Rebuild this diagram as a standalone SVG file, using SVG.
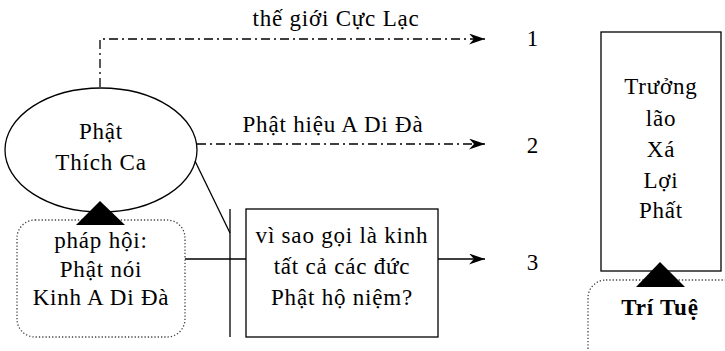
<svg xmlns="http://www.w3.org/2000/svg" width="725" height="351" viewBox="0 0 725 351">
<defs>
<marker id="ah" viewBox="0 0 16 11" refX="16" refY="5.5" markerWidth="16" markerHeight="11" markerUnits="userSpaceOnUse" orient="auto">
<path d="M0,0 L16,5.5 L0,11 L5,5.5 Z" fill="#000"/>
</marker>
</defs>
<style>
text{font-family:"Liberation Serif","Times New Roman",serif;font-size:23px;letter-spacing:0.8px;fill:#000;text-anchor:middle}
.b{font-weight:bold}
.s{fill:none;stroke:#000;stroke-width:1.3}
.dd{fill:none;stroke:#000;stroke-width:1.3;stroke-dasharray:9 4 2 4}
.dot{fill:#fff;stroke:#444;stroke-width:1.3;stroke-dasharray:1.3 2}
</style>
<rect width="725" height="351" fill="#fff"/>
<g id="connectors">
<path class="dd" d="M100,87 V39 H485" marker-end="url(#ah)"/>
<path class="dd" d="M197,144 H485" marker-end="url(#ah)"/>
<path class="s" d="M195,161 L230,233"/>
<path class="s" d="M230,209 V337"/>
<path class="s" d="M185,259 H246"/>
<path class="s" d="M438,259 H485" marker-end="url(#ah)"/>
<text x="336" y="26">thế giới Cực Lạc</text>
<text x="333" y="132">Phật hiệu A Di Đà</text>
</g>
<g id="n-thichca">
<ellipse class="s" cx="101" cy="150" rx="96" ry="62" fill="#fff"/>
<text x="101" y="139">Phật</text>
<text x="101" y="170">Thích Ca</text>
</g>
<g id="n-phaphoi">
<rect class="dot" x="17" y="220" width="168" height="117" rx="18"/>
<path d="M100,201 L76,225 L125,225 Z" fill="#000"/>
<text x="101" y="248">pháp hội:</text>
<text x="101" y="277">Phật nói</text>
<text x="101" y="305">Kinh A Di Đà</text>
</g>
<g id="n-visao">
<rect class="s" x="246" y="209" width="192" height="128" fill="#fff"/>
<text x="342" y="243">vì sao gọi là kinh</text>
<text x="342" y="274">tất cả các đức</text>
<text x="342" y="305">Phật hộ niệm?</text>
</g>
<g id="n-1"><text x="533" y="46">1</text></g>
<g id="n-2"><text x="533" y="153">2</text></g>
<g id="n-3"><text x="533" y="270">3</text></g>
<g id="n-truonglao">
<rect class="s" x="601" y="32" width="120" height="239" fill="#fff"/>
<text x="661" y="94">Trưởng</text>
<text x="661" y="126">lão</text>
<text x="661" y="157">Xá</text>
<text x="661" y="188">Lợi</text>
<text x="661" y="218">Phất</text>
</g>
<g id="n-tritue">
<rect class="dot" x="588" y="280" width="160" height="90" rx="18"/>
<path d="M660,262 L636,287 L685,287 Z" fill="#000"/>
<text class="b" x="660" y="315">Trí Tuệ</text>
</g>
</svg>
